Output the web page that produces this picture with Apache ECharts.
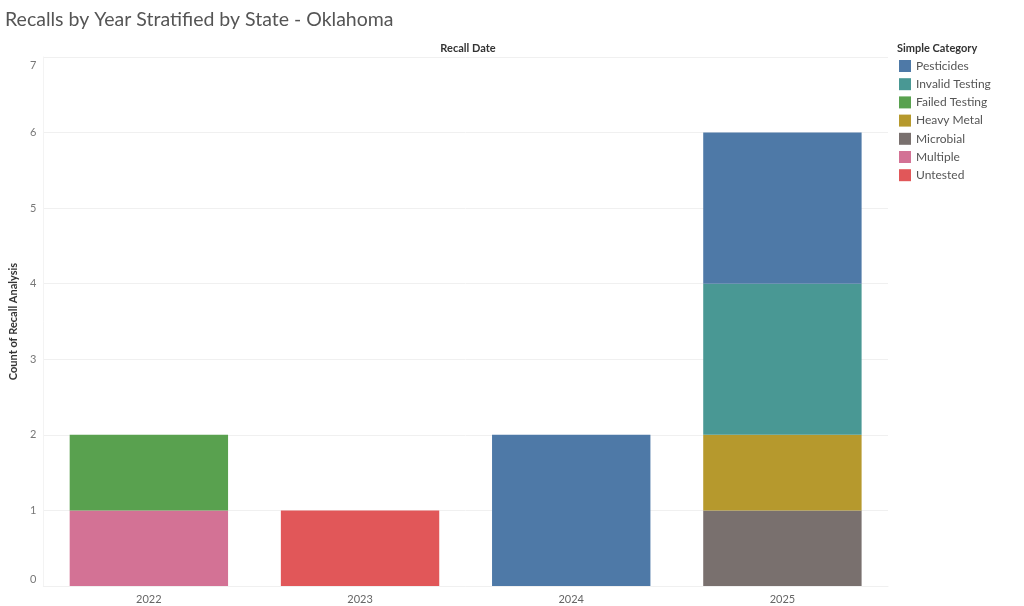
<!DOCTYPE html>
<html><head><meta charset="utf-8">
<script src="https://cdn.jsdelivr.net/npm/echarts@6/dist/echarts.min.js"></script>
<style>html,body{margin:0;padding:0;background:#fff}#c{width:1024px;height:606px}</style>
</head><body><div id="c"></div>
<script>
const years = ['2022','2023','2024','2025'];
const pesticides = [0,0,2,2];
const invalidTesting = [0,0,0,2];
const failedTesting = [1,0,0,0];
const heavyMetal = [0,0,0,1];
const microbial = [0,0,0,1];
const multiple = [1,0,0,0];
const untested = [0,1,0,0];
const legendOrder = ['Pesticides','Invalid Testing','Failed Testing','Heavy Metal','Microbial','Multiple','Untested'];
const colors = {
  'Pesticides':'#4e79a7','Invalid Testing':'#499894','Failed Testing':'#59a14f',
  'Heavy Metal':'#b6992d','Microbial':'#79706e','Multiple':'#d37295','Untested':'#e15759'
};
// stacking order bottom -> top
const stackSeries = [
  ['Untested', untested],['Multiple', multiple],['Microbial', microbial],['Heavy Metal', heavyMetal],
  ['Failed Testing', failedTesting],['Invalid Testing', invalidTesting],['Pesticides', pesticides]
];
const font = 'Lato, "Noto Sans", sans-serif';
const chart = echarts.init(document.getElementById('c'));
chart.setOption({
  animation:false,
  textStyle:{fontFamily:font},
  title:[
    {text:'Recalls by Year Stratified by State - Oklahoma',left:0,top:5,
     textStyle:{fontSize:19.5,fontWeight:'normal',color:'#555',fontFamily:font}},
    {text:'Recall Date',left:463,top:38,textAlign:'center',
     textStyle:{fontSize:11,fontWeight:'bold',color:'#333',fontFamily:font}},
    {text:'Simple Category',left:892,top:38,
     textStyle:{fontSize:11,fontWeight:'bold',color:'#333',fontFamily:font}}
  ],
  legend:{
    data:legendOrder, orient:'vertical', left:899, top:60, itemGap:6.2, padding:0,
    itemWidth:12, itemHeight:12, icon:'rect',
    textStyle:{fontSize:12,color:'#555',fontFamily:font},
    selectedMode:false
  },
  grid:{left:40,right:136,top:57,bottom:20,containLabel:false},
  xAxis:{
    type:'category', data:years,
    axisLine:{show:true,lineStyle:{color:'#f0f0f0'}},
    axisTick:{show:false},
    axisLabel:{fontSize:11,color:'#666',margin:8,fontFamily:font}
  },
  yAxis:{
    type:'value', min:0, max:7, interval:1,
    name:'Count of Recall Analysis', nameLocation:'middle', nameGap:19, nameRotate:90,
    nameTextStyle:{fontSize:11,color:'#333',fontWeight:'bold',fontFamily:font},
    axisLine:{show:true,lineStyle:{color:'#f3f3f3'}},
    axisTick:{show:false},
    splitLine:{lineStyle:{color:'#f0f0f0'}},
    axisLabel:{fontSize:11,color:'#777',margin:7,fontFamily:font,
      formatter:function(v){ if(v===0) return '{b|0}'; if(v===7) return '{t|7}'; return String(v); },
      rich:{b:{fontSize:11,color:'#777',padding:[0,0,14,0]},t:{fontSize:11,color:'#777',padding:[16,0,0,0]}}
    }
  },
  series: stackSeries.map(function(s){
    return {name:s[0],type:'bar',stack:'total',data:s[1],barWidth:'75%',
      itemStyle:{color:colors[s[0]]}};
  })
});
</script></body></html>
